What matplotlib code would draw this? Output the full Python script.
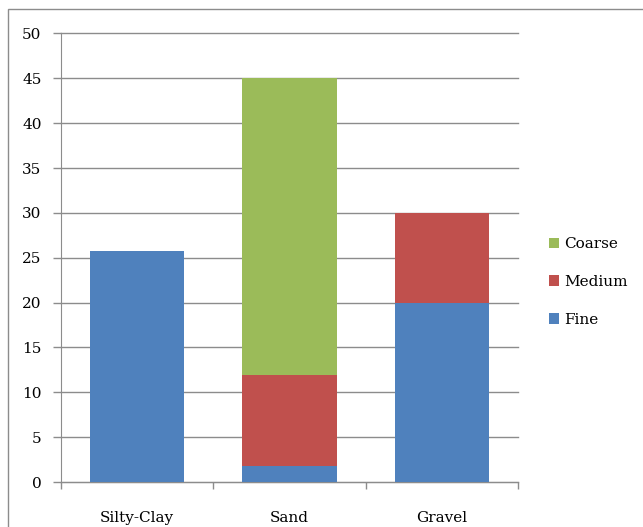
import matplotlib.pyplot as plt
from matplotlib.patches import Rectangle

categories = ['Silty-Clay', 'Sand', 'Gravel']
fine = [25.8, 1.8, 20.0]
medium = [0.0, 10.1, 10.0]
coarse = [0.0, 33.1, 0.0]

colors = {'Fine': '#4F81BD', 'Medium': '#C0504D', 'Coarse': '#9BBB59'}
grid_col = '#8C8C8C'

plt.rcParams['font.family'] = ['DejaVu Serif']
plt.rcParams['font.size'] = 11

fig = plt.figure(figsize=(6.43, 5.27), dpi=100)
# chart area border
fig.patches.append(Rectangle((8 / 643, -0.1), 1.2, 1.1 - 9 / 527, transform=fig.transFigure,
                             fill=False, edgecolor='#8C8C8C', lw=1.0, figure=fig))

ax = fig.add_axes([61 / 643, 1 - 482 / 527, 457 / 643, 448.5 / 527])

x = range(len(categories))
w = 0.62
ax.bar(x, fine, w, color=colors['Fine'], label='Fine', zorder=3)
ax.bar(x, medium, w, bottom=fine, color=colors['Medium'], label='Medium', zorder=3)
bottom2 = [f + m for f, m in zip(fine, medium)]
ax.bar(x, coarse, w, bottom=bottom2, color=colors['Coarse'], label='Coarse', zorder=3)

ax.set_xlim(-0.5, 2.5)
ax.set_ylim(0, 50)
ax.set_yticks(range(0, 51, 5))
ax.yaxis.grid(True, color=grid_col, lw=1.0, zorder=0)
for gl in ax.get_ygridlines():
    gl.set_clip_on(False)
ax.tick_params(axis='y', length=6, width=1, color=grid_col, pad=8)

# category boundaries get tick marks, names sit between them
ax.set_xticks([-0.5, 0.5, 1.5, 2.5])
ax.set_xticklabels([])
ax.tick_params(axis='x', which='major', length=5, width=1, color=grid_col)
ax.set_xticks(list(x), minor=True)
ax.set_xticklabels(categories, minor=True)
ax.tick_params(axis='x', which='minor', length=0, pad=21)

for s in ['top', 'right']:
    ax.spines[s].set_visible(False)
for s in ['left', 'bottom']:
    ax.spines[s].set_color(grid_col)

h, l = ax.get_legend_handles_labels()
ax.legend(h[::-1], l[::-1], loc='center left', bbox_to_anchor=(1.0, 0.446),
          frameon=False, handlelength=0.7, handleheight=0.7, handletextpad=0.3,
          labelspacing=1.55, borderaxespad=1.6)

fig.savefig('out.png', dpi=100)
